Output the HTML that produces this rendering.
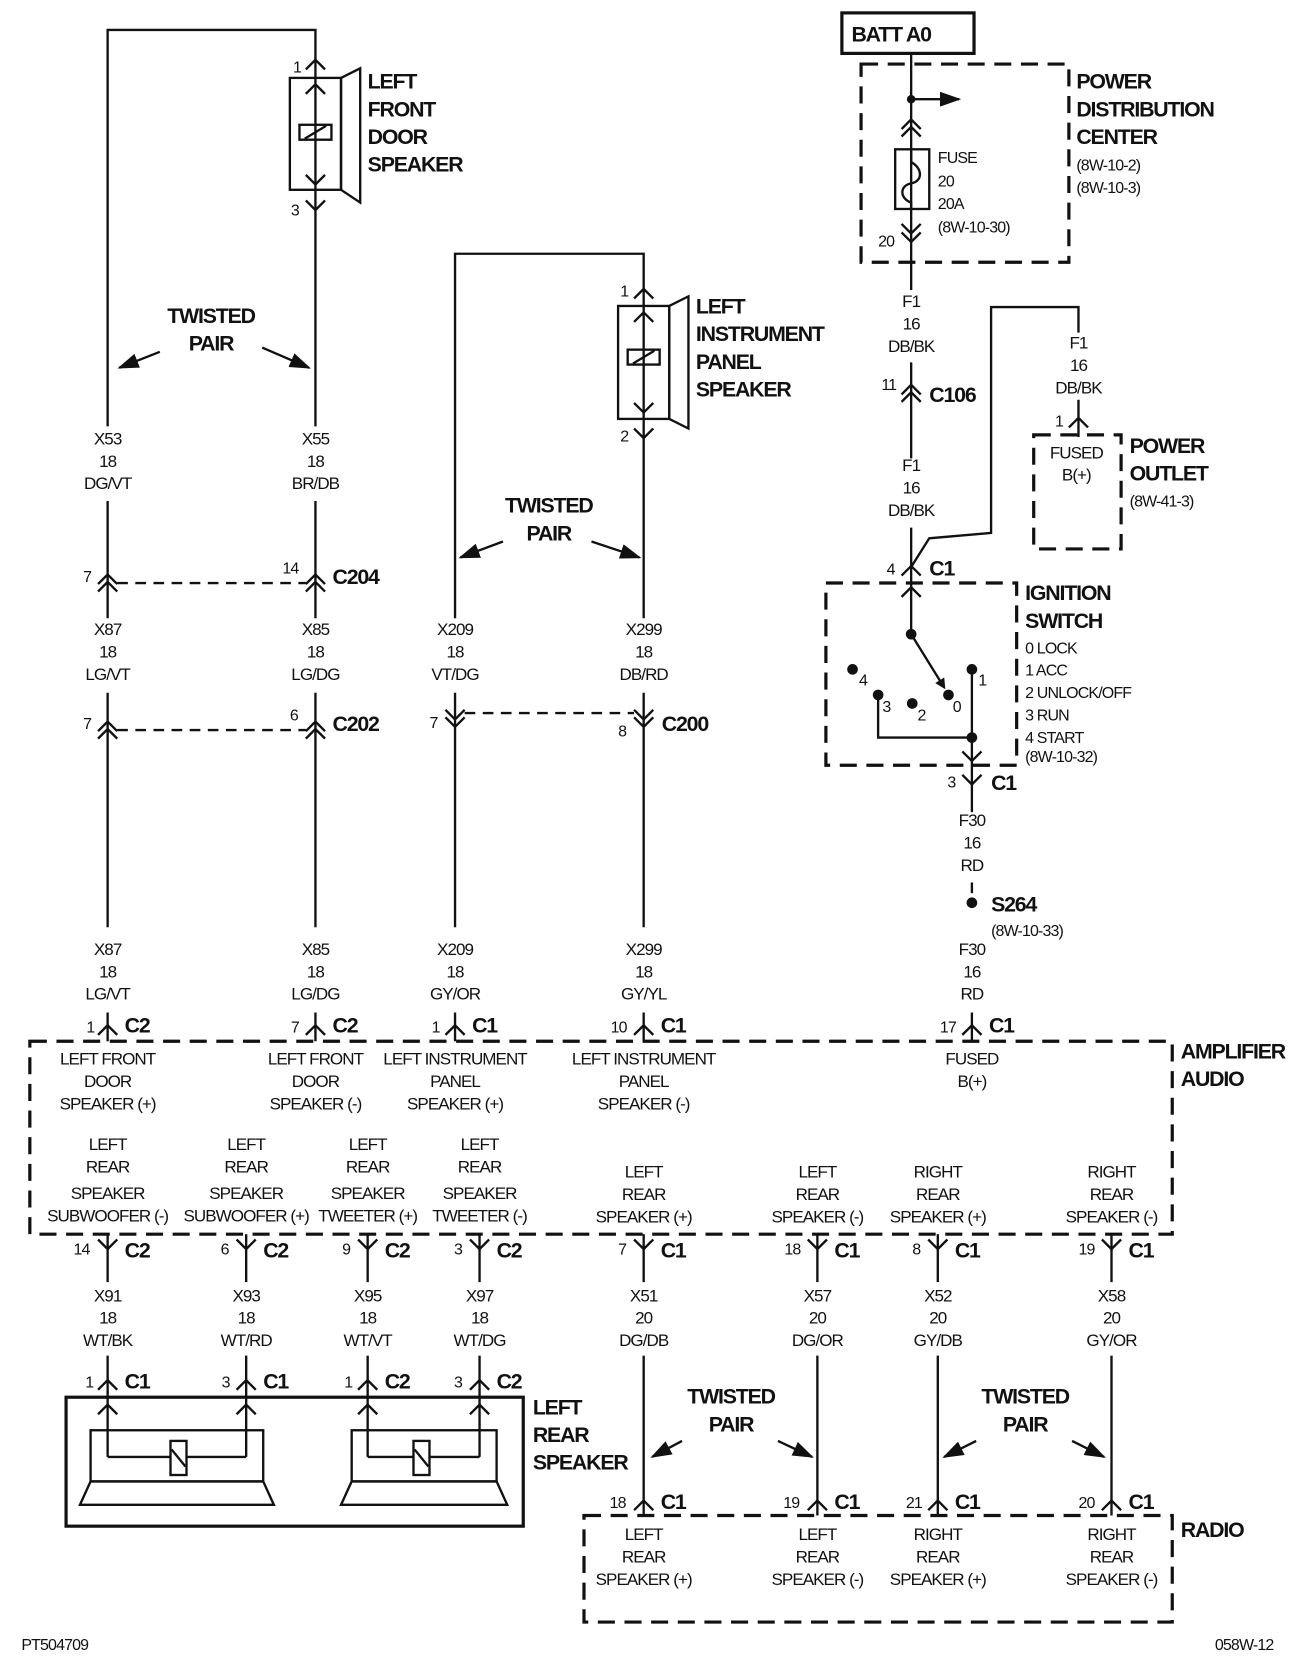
<!DOCTYPE html>
<html><head><meta charset="utf-8"><style>
html,body{margin:0;padding:0;background:#fff;}
svg{display:block;}
text{font-family:"Liberation Sans Narrow","Liberation Sans",sans-serif;fill:#111;}
.s{font-size:16px;text-anchor:middle;letter-spacing:-0.9px;}
.b{font-size:20px;font-weight:bold;letter-spacing:-1.1px;}
.bm{font-size:20px;font-weight:bold;text-anchor:middle;letter-spacing:-1.1px;}
.n{font-size:15px;letter-spacing:-0.8px;}
</style></head><body>
<svg width="1298" height="1668" viewBox="0 0 1218 1565" xmlns="http://www.w3.org/2000/svg">
<defs>
<marker id="ah" markerWidth="10" markerHeight="10" refX="8" refY="5" orient="auto" markerUnits="userSpaceOnUse"><path d="M0,0 L10,5 L0,10 z" fill="#111"/></marker>
<marker id="ab" markerWidth="20" markerHeight="14" refX="18" refY="7" orient="auto" markerUnits="userSpaceOnUse"><path d="M0,0 L20,7 L0,14 z" fill="#111"/></marker>
</defs>
<g stroke="#111" stroke-width="2.2" fill="none">
<polyline points="101,400 101,28 296,28 296,400"/>
<line x1="101" y1="470" x2="101" y2="580"/><line x1="296" y1="470" x2="296" y2="580"/>
<line x1="101" y1="650" x2="101" y2="870"/><line x1="296" y1="650" x2="296" y2="870"/>
<line x1="101" y1="950" x2="101" y2="977"/><line x1="296" y1="950" x2="296" y2="977"/>
<rect x="272" y="73" width="48" height="105"/><rect x="281" y="117" width="30" height="14"/><line x1="286" y1="130" x2="306" y2="118"/>
<polygon points="320,73 338,64 338,190 320,178"/>
<path d="M287,65 L296,56 L305,65 M287,88 L296,79 L305,88 M287,164 L296,173 L305,164 M287,188 L296,197 L305,188"/>
<line x1="150" y1="330" x2="112" y2="345" marker-end="url(#ab)"/>
<line x1="246" y1="326" x2="290" y2="345" marker-end="url(#ab)"/>
<path d="M92,548 L101,539 L110,548 M92,555 L101,546 L110,555 M287,548 L296,539 L305,548 M287,555 L296,546 L305,555"/>
<line x1="110" y1="547" x2="287" y2="547" stroke-dasharray="10,7"/>
<path d="M92,686 L101,677 L110,686 M92,693 L101,684 L110,693 M287,686 L296,677 L305,686 M287,693 L296,684 L305,693"/>
<line x1="110" y1="685" x2="287" y2="685" stroke-dasharray="10,7"/>
<polyline points="427,580 427,238 604,238 604,580"/>
<line x1="427" y1="650" x2="427" y2="870"/><line x1="604" y1="650" x2="604" y2="870"/>
<line x1="427" y1="950" x2="427" y2="977"/><line x1="604" y1="950" x2="604" y2="977"/>
<rect x="580" y="287" width="48" height="106"/><rect x="589" y="328" width="30" height="14"/><line x1="594" y1="341" x2="614" y2="329"/>
<polygon points="628,287 646,278 646,402 628,393"/>
<path d="M595,280 L604,271 L613,280 M595,302 L604,293 L613,302 M595,378 L604,387 L613,378 M595,402 L604,411 L613,402"/>
<line x1="472" y1="508" x2="432" y2="523" marker-end="url(#ab)"/>
<line x1="555" y1="508" x2="600" y2="523" marker-end="url(#ab)"/>
<path d="M418,666 L427,675 L436,666 M418,673 L427,682 L436,673 M595,666 L604,675 L613,666 M595,673 L604,682 L613,673"/>
<line x1="436" y1="669" x2="595" y2="669" stroke-dasharray="10,7"/>
<rect x="790" y="12" width="124" height="38" stroke-width="3"/>
<rect x="808" y="60" width="195" height="186" stroke-width="3" stroke-dasharray="16,9"/>
<line x1="855" y1="50" x2="855" y2="272"/>
<line x1="855" y1="93" x2="900" y2="93" marker-end="url(#ab)"/>
<path d="M846,121 L855,112 L864,121 M846,128 L855,119 L864,128"/>
<rect x="840" y="140" width="32" height="56"/>
<path d="M855,140 L855,152 C866,158 866,170 855,172 C844,174 844,186 855,190 L855,196" />
<path d="M846,210 L855,219 L864,210 M846,218 L855,227 L864,218"/>
<line x1="855" y1="340" x2="855" y2="430"/>
<path d="M846,370 L855,361 L864,370 M846,377 L855,368 L864,377"/>
<line x1="855" y1="495" x2="855" y2="595"/>
<path d="M846,540 L855,531 L864,540"/>
<polyline points="855,532 872,505 930,500 930,288 1012,288 1012,312"/>
<line x1="1012" y1="375" x2="1012" y2="410"/>
<path d="M1003,401 L1012,392 L1021,401"/>
<rect x="970" y="408" width="82" height="107" stroke-width="3" stroke-dasharray="16,9"/>
<rect x="775" y="547" width="179" height="171" stroke-width="3" stroke-dasharray="16,9"/>
<path d="M846,560 L855,551 L864,560"/>
<line x1="855" y1="595" x2="886" y2="645" marker-end="url(#ah)"/>
<polyline points="824,652 824,692 912,692"/>
<line x1="912" y1="628" x2="912" y2="762"/>
<path d="M903,705 L912,714 L921,705 M903,727 L912,736 L921,727"/>
<line x1="912" y1="828" x2="912" y2="838"/>
<line x1="912" y1="950" x2="912" y2="977"/>
<rect x="28" y="977" width="1072" height="181" stroke-width="3" stroke-dasharray="16,9"/>
<path d="M92,971 L101,962 L110,971 M287,971 L296,962 L305,971 M418,971 L427,962 L436,971 M595,971 L604,962 L613,971 M903,971 L912,962 L921,971"/>
<g>
<line x1="101" y1="1158" x2="101" y2="1203"/><line x1="231" y1="1158" x2="231" y2="1203"/><line x1="345" y1="1158" x2="345" y2="1203"/><line x1="450" y1="1158" x2="450" y2="1203"/>
<line x1="604" y1="1158" x2="604" y2="1203"/><line x1="767" y1="1158" x2="767" y2="1203"/><line x1="880" y1="1158" x2="880" y2="1203"/><line x1="1043" y1="1158" x2="1043" y2="1203"/>
<path d="M92,1163 L101,1172 L110,1163 M222,1163 L231,1172 L240,1163 M336,1163 L345,1172 L354,1163 M441,1163 L450,1172 L459,1163 M595,1163 L604,1172 L613,1163 M758,1163 L767,1172 L776,1163 M871,1163 L880,1172 L889,1163 M1034,1163 L1043,1172 L1052,1163"/>
<line x1="101" y1="1272" x2="101" y2="1367"/><line x1="231" y1="1272" x2="231" y2="1367"/><line x1="345" y1="1272" x2="345" y2="1367"/><line x1="450" y1="1272" x2="450" y2="1367"/>
<path d="M92,1304 L101,1295 L110,1304 M222,1304 L231,1295 L240,1304 M336,1304 L345,1295 L354,1304 M441,1304 L450,1295 L459,1304"/>
<path d="M92,1327 L101,1318 L110,1327 M222,1327 L231,1318 L240,1327 M336,1327 L345,1318 L354,1327 M441,1327 L450,1318 L459,1327"/>
<line x1="604" y1="1272" x2="604" y2="1422"/><line x1="767" y1="1272" x2="767" y2="1422"/><line x1="880" y1="1272" x2="880" y2="1422"/><line x1="1043" y1="1272" x2="1043" y2="1422"/>
<path d="M595,1417 L604,1408 L613,1417 M758,1417 L767,1408 L776,1417 M871,1417 L880,1408 L889,1417 M1034,1417 L1043,1408 L1052,1417"/>
<line x1="640" y1="1352" x2="612" y2="1367" marker-end="url(#ab)"/>
<line x1="730" y1="1352" x2="762" y2="1367" marker-end="url(#ab)"/>
<line x1="916" y1="1352" x2="886" y2="1367" marker-end="url(#ab)"/>
<line x1="1006" y1="1352" x2="1036" y2="1367" marker-end="url(#ab)"/>
</g>
<rect x="62" y="1311" width="429" height="121" stroke-width="3"/>
<rect x="85" y="1342" width="162" height="48"/>
<polygon points="85,1390 247,1390 257,1412 75,1412"/>
<rect x="160" y="1352" width="15" height="32"/><line x1="161" y1="1360" x2="174" y2="1376"/>
<polyline points="101,1367 160,1367"/><polyline points="175,1367 231,1367"/>
<rect x="330" y="1342" width="136" height="48"/>
<polygon points="330,1390 466,1390 476,1412 320,1412"/>
<rect x="388" y="1352" width="15" height="32"/><line x1="389" y1="1360" x2="402" y2="1376"/>
<polyline points="345,1367 388,1367"/><polyline points="403,1367 450,1367"/>
<rect x="548" y="1422" width="552" height="100" stroke-width="3" stroke-dasharray="16,9"/>
</g>
<g fill="#111">
<circle cx="855" cy="93" r="4"/><circle cx="855" cy="595" r="5"/><circle cx="800" cy="628" r="5"/><circle cx="824" cy="652" r="5"/><circle cx="856" cy="660" r="5"/><circle cx="890" cy="652" r="5"/><circle cx="912" cy="628" r="5"/><circle cx="912" cy="692" r="5"/><circle cx="912" cy="847" r="5"/>
</g>
<text class="n" x="275" y="68">1</text><text class="n" x="273" y="202">3</text>
<text class="b" x="345" y="83">LEFT</text><text class="b" x="345" y="109">FRONT</text><text class="b" x="345" y="135">DOOR</text><text class="b" x="345" y="161">SPEAKER</text>
<text class="bm" x="198" y="303">TWISTED</text><text class="bm" x="198" y="329">PAIR</text>
<text class="s" x="101" y="417">X53</text><text class="s" x="101" y="438">18</text><text class="s" x="101" y="459">DG/VT</text>
<text class="s" x="296" y="417">X55</text><text class="s" x="296" y="438">18</text><text class="s" x="296" y="459">BR/DB</text>
<text class="n" x="78" y="546">7</text><text class="n" x="265" y="538">14</text><text class="b" x="312" y="548">C204</text>
<text class="s" x="101" y="596">X87</text><text class="s" x="101" y="617">18</text><text class="s" x="101" y="638">LG/VT</text>
<text class="s" x="296" y="596">X85</text><text class="s" x="296" y="617">18</text><text class="s" x="296" y="638">LG/DG</text>
<text class="n" x="78" y="684">7</text><text class="n" x="272" y="676">6</text><text class="b" x="312" y="686">C202</text>
<text class="s" x="101" y="896">X87</text><text class="s" x="101" y="917">18</text><text class="s" x="101" y="938">LG/VT</text>
<text class="s" x="296" y="896">X85</text><text class="s" x="296" y="917">18</text><text class="s" x="296" y="938">LG/DG</text>
<text class="n" x="582" y="278">1</text><text class="n" x="582" y="414">2</text>
<text class="b" x="653" y="294">LEFT</text><text class="b" x="653" y="320">INSTRUMENT</text><text class="b" x="653" y="346">PANEL</text><text class="b" x="653" y="372">SPEAKER</text>
<text class="bm" x="515" y="481">TWISTED</text><text class="bm" x="515" y="507">PAIR</text>
<text class="s" x="427" y="596">X209</text><text class="s" x="427" y="617">18</text><text class="s" x="427" y="638">VT/DG</text>
<text class="s" x="604" y="596">X299</text><text class="s" x="604" y="617">18</text><text class="s" x="604" y="638">DB/RD</text>
<text class="n" x="403" y="683">7</text><text class="n" x="580" y="691">8</text><text class="b" x="621" y="686">C200</text>
<text class="s" x="427" y="896">X209</text><text class="s" x="427" y="917">18</text><text class="s" x="427" y="938">GY/OR</text>
<text class="s" x="604" y="896">X299</text><text class="s" x="604" y="917">18</text><text class="s" x="604" y="938">GY/YL</text>
<text class="b" x="799" y="39">BATT A0</text>
<text class="n" x="880" y="153">FUSE</text><text class="n" x="880" y="175">20</text><text class="n" x="880" y="196">20A</text><text class="n" x="880" y="218">(8W-10-30)</text>
<text class="n" x="824" y="231">20</text>
<text class="b" x="1010" y="83">POWER</text><text class="b" x="1010" y="109">DISTRIBUTION</text><text class="b" x="1010" y="135">CENTER</text>
<text class="n" x="1010" y="160">(8W-10-2)</text><text class="n" x="1010" y="181">(8W-10-3)</text>
<text class="s" x="855" y="288">F1</text><text class="s" x="855" y="309">16</text><text class="s" x="855" y="330">DB/BK</text>
<text class="n" x="827" y="366">11</text><text class="b" x="872" y="377">C106</text>
<text class="s" x="855" y="442">F1</text><text class="s" x="855" y="463">16</text><text class="s" x="855" y="484">DB/BK</text>
<text class="s" x="1012" y="327">F1</text><text class="s" x="1012" y="348">16</text><text class="s" x="1012" y="369">DB/BK</text>
<text class="n" x="990" y="400">1</text>
<text class="s" x="1010" y="430">FUSED</text><text class="s" x="1010" y="451">B(+)</text>
<text class="b" x="1060" y="425">POWER</text><text class="b" x="1060" y="451">OUTLET</text><text class="n" x="1060" y="475">(8W-41-3)</text>
<text class="n" x="832" y="539">4</text><text class="b" x="872" y="540">C1</text>
<text class="b" x="962" y="563">IGNITION</text><text class="b" x="962" y="589">SWITCH</text>
<text class="n" x="962" y="613">0 LOCK</text><text class="n" x="962" y="634">1 ACC</text><text class="n" x="962" y="655">2 UNLOCK/OFF</text><text class="n" x="962" y="676">3 RUN</text><text class="n" x="962" y="697">4 START</text><text class="n" x="962" y="715">(8W-10-32)</text>
<text class="n" x="806" y="643">4</text><text class="n" x="828" y="668">3</text><text class="n" x="861" y="676">2</text><text class="n" x="894" y="668">0</text><text class="n" x="918" y="643">1</text>
<text class="n" x="889" y="739">3</text><text class="b" x="930" y="741">C1</text>
<text class="s" x="912" y="775">F30</text><text class="s" x="912" y="796">16</text><text class="s" x="912" y="817">RD</text>
<text class="b" x="930" y="855">S264</text><text class="n" x="930" y="878">(8W-10-33)</text>
<text class="s" x="912" y="896">F30</text><text class="s" x="912" y="917">16</text><text class="s" x="912" y="938">RD</text>
<text class="n" x="81" y="969">1</text><text class="b" x="117" y="969">C2</text>
<text class="n" x="273" y="969">7</text><text class="b" x="312" y="969">C2</text>
<text class="n" x="405" y="969">1</text><text class="b" x="443" y="969">C1</text>
<text class="n" x="573" y="969">10</text><text class="b" x="620" y="969">C1</text>
<text class="n" x="882" y="969">17</text><text class="b" x="928" y="969">C1</text>
<text class="b" x="1108" y="993">AMPLIFIER</text><text class="b" x="1108" y="1019">AUDIO</text>
<text class="s" x="101" y="999">LEFT FRONT</text><text class="s" x="101" y="1020">DOOR</text><text class="s" x="101" y="1041">SPEAKER (+)</text>
<text class="s" x="296" y="999">LEFT FRONT</text><text class="s" x="296" y="1020">DOOR</text><text class="s" x="296" y="1041">SPEAKER (-)</text>
<text class="s" x="427" y="999">LEFT INSTRUMENT</text><text class="s" x="427" y="1020">PANEL</text><text class="s" x="427" y="1041">SPEAKER (+)</text>
<text class="s" x="604" y="999">LEFT INSTRUMENT</text><text class="s" x="604" y="1020">PANEL</text><text class="s" x="604" y="1041">SPEAKER (-)</text>
<text class="s" x="912" y="999">FUSED</text><text class="s" x="912" y="1020">B(+)</text>
<text class="s" x="101" y="1079">LEFT</text><text class="s" x="101" y="1100">REAR</text><text class="s" x="101" y="1125">SPEAKER</text><text class="s" x="101" y="1146">SUBWOOFER (-)</text>
<text class="s" x="231" y="1079">LEFT</text><text class="s" x="231" y="1100">REAR</text><text class="s" x="231" y="1125">SPEAKER</text><text class="s" x="231" y="1146">SUBWOOFER (+)</text>
<text class="s" x="345" y="1079">LEFT</text><text class="s" x="345" y="1100">REAR</text><text class="s" x="345" y="1125">SPEAKER</text><text class="s" x="345" y="1146">TWEETER (+)</text>
<text class="s" x="450" y="1079">LEFT</text><text class="s" x="450" y="1100">REAR</text><text class="s" x="450" y="1125">SPEAKER</text><text class="s" x="450" y="1146">TWEETER (-)</text>
<text class="s" x="604" y="1105">LEFT</text><text class="s" x="604" y="1126">REAR</text><text class="s" x="604" y="1147">SPEAKER (+)</text>
<text class="s" x="767" y="1105">LEFT</text><text class="s" x="767" y="1126">REAR</text><text class="s" x="767" y="1147">SPEAKER (-)</text>
<text class="s" x="880" y="1105">RIGHT</text><text class="s" x="880" y="1126">REAR</text><text class="s" x="880" y="1147">SPEAKER (+)</text>
<text class="s" x="1043" y="1105">RIGHT</text><text class="s" x="1043" y="1126">REAR</text><text class="s" x="1043" y="1147">SPEAKER (-)</text>
<text class="n" x="69" y="1177">14</text><text class="b" x="117" y="1180">C2</text>
<text class="n" x="207" y="1177">6</text><text class="b" x="247" y="1180">C2</text>
<text class="n" x="321" y="1177">9</text><text class="b" x="361" y="1180">C2</text>
<text class="n" x="426" y="1177">3</text><text class="b" x="466" y="1180">C2</text>
<text class="n" x="580" y="1177">7</text><text class="b" x="620" y="1180">C1</text>
<text class="n" x="736" y="1177">18</text><text class="b" x="783" y="1180">C1</text>
<text class="n" x="856" y="1177">8</text><text class="b" x="896" y="1180">C1</text>
<text class="n" x="1012" y="1177">19</text><text class="b" x="1059" y="1180">C1</text>
<text class="s" x="101" y="1221">X91</text><text class="s" x="101" y="1242">18</text><text class="s" x="101" y="1263">WT/BK</text>
<text class="s" x="231" y="1221">X93</text><text class="s" x="231" y="1242">18</text><text class="s" x="231" y="1263">WT/RD</text>
<text class="s" x="345" y="1221">X95</text><text class="s" x="345" y="1242">18</text><text class="s" x="345" y="1263">WT/VT</text>
<text class="s" x="450" y="1221">X97</text><text class="s" x="450" y="1242">18</text><text class="s" x="450" y="1263">WT/DG</text>
<text class="s" x="604" y="1221">X51</text><text class="s" x="604" y="1242">20</text><text class="s" x="604" y="1263">DG/DB</text>
<text class="s" x="767" y="1221">X57</text><text class="s" x="767" y="1242">20</text><text class="s" x="767" y="1263">DG/OR</text>
<text class="s" x="880" y="1221">X52</text><text class="s" x="880" y="1242">20</text><text class="s" x="880" y="1263">GY/DB</text>
<text class="s" x="1043" y="1221">X58</text><text class="s" x="1043" y="1242">20</text><text class="s" x="1043" y="1263">GY/OR</text>
<text class="n" x="80" y="1302">1</text><text class="b" x="117" y="1303">C1</text>
<text class="n" x="208" y="1302">3</text><text class="b" x="247" y="1303">C1</text>
<text class="n" x="323" y="1302">1</text><text class="b" x="361" y="1303">C2</text>
<text class="n" x="426" y="1302">3</text><text class="b" x="466" y="1303">C2</text>
<text class="b" x="500" y="1327">LEFT</text><text class="b" x="500" y="1353">REAR</text><text class="b" x="500" y="1379">SPEAKER</text>
<text class="bm" x="686" y="1317">TWISTED</text><text class="bm" x="686" y="1343">PAIR</text>
<text class="bm" x="962" y="1317">TWISTED</text><text class="bm" x="962" y="1343">PAIR</text>
<text class="n" x="572" y="1415">18</text><text class="b" x="620" y="1416">C1</text>
<text class="n" x="735" y="1415">19</text><text class="b" x="783" y="1416">C1</text>
<text class="n" x="850" y="1415">21</text><text class="b" x="896" y="1416">C1</text>
<text class="n" x="1012" y="1415">20</text><text class="b" x="1059" y="1416">C1</text>
<text class="b" x="1108" y="1442">RADIO</text>
<text class="s" x="604" y="1445">LEFT</text><text class="s" x="604" y="1466">REAR</text><text class="s" x="604" y="1487">SPEAKER (+)</text>
<text class="s" x="767" y="1445">LEFT</text><text class="s" x="767" y="1466">REAR</text><text class="s" x="767" y="1487">SPEAKER (-)</text>
<text class="s" x="880" y="1445">RIGHT</text><text class="s" x="880" y="1466">REAR</text><text class="s" x="880" y="1487">SPEAKER (+)</text>
<text class="s" x="1043" y="1445">RIGHT</text><text class="s" x="1043" y="1466">REAR</text><text class="s" x="1043" y="1487">SPEAKER (-)</text>
<text class="n" x="20" y="1548">PT504709</text>
<text class="n" x="1140" y="1548">058W-12</text>
</svg>
</body></html>
